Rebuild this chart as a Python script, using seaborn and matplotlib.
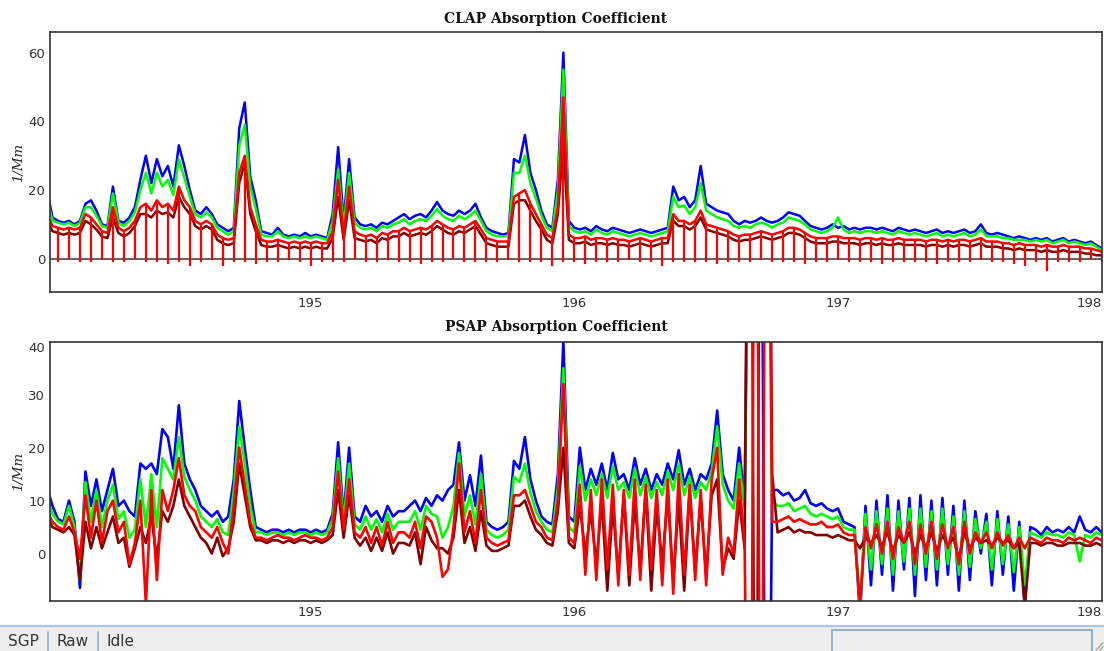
import numpy as np
import matplotlib
matplotlib.use("Agg")
import matplotlib.pyplot as plt
import seaborn as sns
from matplotlib.ticker import MultipleLocator
from matplotlib.patches import Rectangle
from matplotlib.lines import Line2D

# ---------------- data (day of year, half-hour grid 194.0 .. 198.0) ----------------
time_days = np.round(194 + np.arange(193) / 48.0, 6)

clap_blue = [
    20, 12, 11, 10.5, 11, 10, 11, 16, 17, 14,
    10, 9.5, 21, 11, 10.5, 12, 15, 23, 30, 22,
    29, 24, 27, 21, 33, 27, 20, 14, 13, 15,
    13, 10, 9, 8, 9, 38, 45.5, 24, 17, 8,
    7.5, 7, 9, 7, 6.5, 7, 6.5, 7.5, 6.5, 7,
    6.5, 6, 13, 32.5, 11, 29, 12, 10, 9.5, 10,
    9, 10.5, 10, 11, 12, 13, 11.5, 12.5, 13, 12,
    14, 16.5, 14, 13, 12.5, 14, 13, 14, 16, 12,
    9, 8, 7.5, 7, 7.5, 29, 28, 36, 25, 20,
    14, 10, 9, 23, 60, 11, 9, 8.5, 9, 8,
    9.5, 8.5, 8, 9, 8.5, 8, 7.5, 8, 8.5, 8,
    7.5, 8, 8.5, 9, 21, 17, 18, 15, 17, 27,
    16, 15, 14, 13.5, 13, 11, 10, 11, 10.5, 11,
    12, 11, 10.5, 11, 12, 13.5, 13, 12.5, 11, 9.5,
    9, 8.5, 9, 10, 9, 9.5, 8.5, 9, 8.5, 9,
    9, 8.5, 9, 8.5, 8, 9, 8.5, 8, 8.5, 8,
    7.5, 8, 8.5, 7.5, 8, 7.5, 8, 8.5, 7.5, 8,
    10, 7.5, 7, 7.5, 7, 6.5, 6, 6.5, 6, 5.5,
    6, 5.5, 6, 5, 5.5, 6, 5, 5.5, 5, 4.5,
    5, 4, 3]

clap_green = [
    17.5, 11, 10.5, 10, 10.5, 9.5, 10.5, 15, 15, 12.5,
    9.5, 9, 19, 10.5, 9.5, 11, 13.5, 20, 25, 19,
    25, 21, 23, 18.5, 29, 23.5, 18, 13, 12, 13.5,
    12, 9, 8, 7, 8, 33, 39, 21, 14.5, 7,
    6.5, 6.5, 8, 6.5, 6, 6.5, 6, 6.5, 6, 6.5,
    6, 5.5, 11, 26, 9.5, 25, 10.5, 9, 8.5, 9,
    8, 9.5, 9, 10, 10.5, 11.5, 10, 11, 11.5, 11,
    12.5, 14.5, 12.5, 11.5, 11, 12.5, 11.5, 12.5, 14, 11,
    8, 7, 6.5, 6.5, 6.5, 25, 25, 30, 22, 17.5,
    12.5, 9, 8, 20, 55, 9.5, 8, 7.5, 8, 7,
    8.5, 7.5, 7, 8, 7.5, 7, 6.5, 7, 7.5, 7,
    6.5, 7, 7.5, 8, 18, 15, 15.5, 13, 15, 22,
    14, 13, 12, 11.5, 11, 9.5, 9, 9.5, 9, 10,
    10.5, 10, 9, 10, 10.5, 12, 11.5, 11, 10, 8.5,
    8, 7.5, 8, 9, 12, 8.5, 7.5, 8, 7.5, 8,
    8, 7.5, 8, 7.5, 7, 8, 7.5, 7, 7.5, 7,
    6.5, 7, 7.5, 6.5, 7, 6.5, 7, 7.5, 6.5, 7,
    8.5, 6.5, 6.5, 6.5, 6, 6, 5.5, 5.5, 5.5, 5,
    5.5, 5, 5.5, 4.5, 5, 5.5, 4.5, 5, 4.5, 4,
    4.5, 3.5, 2.5]

clap_red = [
    13, 9.5, 9, 8.5, 9, 8.5, 9, 13, 12, 10,
    8, 7.5, 15, 9, 8, 9, 11, 15, 16, 14,
    17, 15, 16, 14, 21, 17, 15, 11, 10, 11,
    10, 7, 6, 5.5, 6, 25, 30, 15, 10, 5.5,
    5, 5, 5.5, 5, 4.5, 5, 4.5, 5, 4.5, 5,
    4.5, 4.5, 8, 23, 7, 21, 8, 7, 6.5, 7,
    6, 7.5, 7, 8, 8, 9, 8, 8.5, 9, 8.5,
    9.5, 11, 10, 9, 8.5, 9.5, 9, 10, 11, 8.5,
    6, 5.5, 5, 5, 5, 18, 19, 20, 16, 13,
    10, 7, 6, 15, 47, 7, 6, 6, 6.5, 5.5,
    6, 6, 5.5, 6, 5.5, 5.5, 5, 5.5, 6, 5.5,
    5, 5.5, 6, 6, 13, 11, 11, 10, 11, 14,
    10, 9.5, 9, 8.5, 8, 7, 6.5, 7, 7, 7.5,
    8, 7.5, 7, 7.5, 8, 9, 9, 8.5, 7.5, 6.5,
    6, 6, 6, 6.5, 6.5, 6, 6, 6, 5.5, 6,
    6, 5.5, 6, 5.5, 5.5, 6, 5.5, 5.5, 5.5, 5.5,
    5, 5.5, 5.5, 5, 5.5, 5, 5.5, 5.5, 5, 5.5,
    6, 5, 5, 5, 4.5, 4.5, 4, 4.5, 4, 4,
    4, 3.5, 4, 3.5, 3.5, 4, 3.5, 3.5, 3.5, 3,
    3, 2.5, 2]

clap_dark_red = [
    11, 8, 7.5, 7, 7.5, 7, 7.5, 11, 10, 8.5,
    6.5, 6, 12, 7.5, 6.5, 7.5, 9.5, 13, 13, 12,
    14, 13, 13.5, 12, 18, 15, 13, 9.5, 8.5, 9.5,
    8.5, 5.5, 4.5, 4, 4.5, 22, 28, 13, 8, 4,
    3.5, 3.5, 4, 3.5, 3, 3.5, 3, 3.5, 3, 3.5,
    3, 3, 6, 18, 5.5, 17, 6, 5.5, 5, 5.5,
    4.5, 6, 5.5, 6.5, 6.5, 7.5, 6.5, 7, 7.5, 7,
    8, 9.5, 8.5, 7.5, 7, 8, 7.5, 8.5, 9.5, 7,
    4.5, 4, 3.5, 3.5, 3.5, 16, 17, 17, 14, 11,
    8.5, 5.5, 4.5, 13, 34, 5.5, 4.5, 4.5, 5, 4,
    4.5, 4.5, 4, 4.5, 4, 4, 3.5, 4, 4.5, 4,
    3.5, 4, 4.5, 4.5, 11, 9.5, 9.5, 8.5, 9.5, 12,
    8.5, 8, 7.5, 7, 6.5, 5.5, 5, 5.5, 5.5, 6,
    6.5, 6, 5.5, 6, 6.5, 7.5, 7.5, 7, 6, 5,
    4.5, 4.5, 4.5, 5, 5, 4.5, 4.5, 4.5, 4, 4.5,
    4.5, 4, 4.5, 4, 4, 4.5, 4, 4, 4, 4,
    3.5, 4, 4, 3.5, 4, 3.5, 4, 4, 3.5, 4,
    4.5, 3.5, 3.5, 3.5, 3, 3, 2.5, 3, 2.5, 2.5,
    2.5, 2, 2.5, 2, 2, 2.5, 2, 2, 2, 1.5,
    1.5, 1, 1]

# hourly zero checks of the CLAP (minimum reached at each hour, hours 194+1/24 ...)
clap_zero_low = [
    -1, 0, -1, -1, -0.5, -1, -1, 0, -1, -1, -1.5, -1, -2, -1, -0.5, -2, -1, -1, -1.5, -1,
    -1, -0.5, -1, -2, -1, -1, -1, 0, -1, -1, -0.5, -1, -1, -1.5, -1, -1, 0, -1, -1, -1,
    -1, -0.5, -1, -1, -1, -2, -1, -1, -1.5, -1, -1, -1, -0.5, -1, -1, -2, -1, -1, -1, -1,
    -1.5, -1, -1, -1, -0.5, -1, -1, -1, -1.5, -1, -1, -0.5, -1, -1, -1, -1.5, -1, -1, -1, -1,
    -1.5, -1, -1, -1, -0.5, -1, -1, -1.5, -2, -1, -3.5, -1, -1, -1, -0.5, -1]

psap_blue = [
    12.5, 9, 6.5, 6, 10, 6, -6.5, 15.5, 9, 14,
    8, 12, 16, 9, 10, 8, 7, 17, 16, 17,
    15, 23.5, 22, 16, 28, 17, 14, 12, 9, 8,
    7, 8, 6, 7, 14, 28.8, 20, 12, 5, 4.5,
    4, 4.5, 4.5, 4, 4.5, 4, 4.5, 4.5, 4, 4.5,
    4, 4.5, 7.5, 21, 7, 20, 7, 6, 9, 7,
    8, 6, 9, 7, 8, 8, 9, 10, 8, 10.5,
    9, 11, 10, 12, 13, 21, 10, 14.8, 9, 18.5,
    6, 5, 4.5, 5, 6, 17.5, 16, 22, 14, 10,
    7, 6, 5.5, 15, 40, 7, 6, 20, 12, 16,
    13, 17, 12, 19, 14, 15, 12, 18, 13, 16,
    12, 15, 13, 17, 14, 19.5, 13, 16, 12, 15,
    14, 17, 27, 15, 12, 10, 20, 10, 100, 100,
    100, -100, 12, 12, 11, 11.5, 10, 10.5, 12, 9.5,
    9, 9.5, 8.5, 8, 8.5, 6, 5.5, 5, -12, 9,
    -6, 10, -4, 11, -7, 10, -3, 10.5, -8, 11,
    -5, 10, -6, 10.5, -4, 9, -7, 10, -5, 8,
    0, 7.5, -6, 8, -4, 7, -7, 6, -10, 5,
    4.5, 3.5, 5, 4, 4.5, 4, 5, 4, 7, 4.5,
    4, 5, 4]

psap_green = [
    10.5, 7.5, 6, 5.5, 9, 5, -5, 13.5, 6, 12,
    5, 10, 13, 6.5, 8, 3, 4.5, 14, 5, 15,
    5, 18, 16, 14, 22, 14.5, 12, 10, 7, 6,
    5, 6.5, 4, 3.5, 12, 24, 17, 9, 4, 4,
    3.5, 4, 4, 3.5, 4, 3.5, 4, 4, 3.5, 4,
    3.5, 4, 6.5, 18, 6, 17, 5.5, 4.5, 7, 4.5,
    6.5, 4, 7.5, 4.5, 6, 6, 6, 8, 4.5, 9,
    7.5, 7, 3, 5, 9, 19, 7, 11, 5.5, 15,
    4.5, 3.5, 3, 3.5, 4.5, 14.5, 13.5, 17, 11.5, 8,
    6, 4.5, 4, 12.5, 35, 5, 4, 16.5, 10, 14,
    11, 15, 10.5, 16.5, 12, 13.5, 10.5, 16, 11, 14.5,
    10.5, 13.5, 11, 15.5, 12, 17, 11, 14.5, 10.5, 13.5,
    12, 15.5, 24, 13, 10, 8.5, 17, 8.5, 100, 100,
    100, 100, 10, 9, 9, 9.5, 8, 8.5, 9, 7.5,
    7, 7.5, 7, 6.5, 7, 5, 4.5, 4.5, -10, 7.5,
    -3, 8, -2, 8.5, -4, 8, -1.5, 8.5, -4, 8.5,
    -2.5, 8, -3, 8.5, -2, 7, -4, 8, -2.5, 6.5,
    1, 6, -3, 6.5, -2, 5.5, -3.5, 5, -6, 4,
    3.5, 3, 4, 3.5, 3.5, 3, 4, 3.5, -1.5, 3.5,
    3, 4, 3.5]

psap_red = [
    8, 6, 5, 4.5, 7, 4, -1, 11, 3, 10,
    2, 8, 10, 4, 6, -2, 2, 10, -9.5, 12,
    -5, 12, 8, 12, 18, 11, 9, 8, 5, 4,
    3, 5, 2, 0, 9, 20, 13, 6, 3, 3,
    2.5, 3, 3.5, 3, 3, 2.5, 3, 3.5, 3, 3,
    2.5, 3, 5, 15.5, 4.5, 14, 4, 3, 5, 2,
    5, 1.5, 6, 2, 4, 4, 3, 6, 1, 7,
    6, 3, -4.4, -3, 5, 17, 4, 8, 2, 12,
    3, 2, 1.5, 2, 2.5, 11, 11, 12, 9, 6,
    5, 3, 2.5, 10, 32, 3, 2, 13, -4, 12,
    -5, 14, -3, 13, -6, 12, -4, 14, -5, 13,
    -3, 12, -6, 14, -7.6, 15, -4, 13, -5, 12,
    -6, 14, 20, -4, 3, 0, 14, 2, -100, 150,
    -100, 150, 6, 6, 6.5, 7, 6, 6.5, 6, 5.5,
    5.5, 6, 5, 5, 5.5, 4, 3.5, 3.5, -9.5, 5,
    1, 5.5, 0, 6, -1, 5, 2, 6, -2, 5.5,
    0, 6, -1, 5.5, 1, 5, -2, 6, 0, 4,
    2, 4, 1, 4, 1.5, 3.5, 1, 3, 1, 3,
    2.5, 2, 3, 2.5, 2.5, 2, 3, 2.5, 3, 2.5,
    2, 3, 2.5]

psap_dark_red = [
    7, 5, 4.5, 4, 5, 3.5, -5, 6, 1, 5,
    1, 4, 7, 2, 3, -2.5, 1, 5, 2, 7,
    -1, 8, 6, 9, 14, 9, 7, 5, 3, 2,
    0, 3, -0.5, 1, 6, 17, 11, 5, 2.5, 2.5,
    2, 2.5, 2.5, 2, 2.5, 2, 2.5, 2.5, 2, 2.5,
    2, 2.5, 3.5, 12, 3, 11, 3, 1.5, 3, 0.5,
    3, 0.5, 4, 0, 2, 2, 1.5, 4, -2, 5,
    2.5, 1, 1, 0, 3, 12, 2, 5, 0.5, 8,
    1.5, 0.5, 0.5, 1, 1.5, 9, 9, 10, 7, 4.5,
    3.5, 2, 1.5, 8, 20, 2, 1, 9, 0, 8,
    -2, 10, -7, 9, -4, 11, -6, 10, -3, 12,
    -7, 9, -2, 11, -5, 10, -7, 12, -3, 10,
    -4, 11, 14, -3, 1, -1, 10, 1, 150, -100,
    150, 150, 15, 4, 4.5, 5, 4, 4.5, 4, 4,
    3.5, 3.5, 3.5, 3, 3.5, 3, 2.5, 2.5, 1, 3,
    2, 3.5, 1.5, 4, 0.5, 3.5, 2, 4, 0, 3.5,
    1, 4, 0.5, 3.5, 1.5, 3, -1, 4, 1, 3,
    2, 2.5, 1.5, 3, 2, 2.5, 1, 2, -10, 2,
    2, 1.5, 2, 2, 1.5, 1.5, 2, 2, 2, 1.5,
    1.5, 2, 1.5]

panel_titles = ["CLAP Absorption Coefficient", "PSAP Absorption Coefficient"]
y_unit = "1/Mm"
x_tick_values = [195, 196, 197, 198]
status_items = ["SGP", "Raw", "Idle"]

# ---------------- styling ----------------
sns.set_style("white")
plt.rcParams["font.family"] = ["DejaVu Sans"]

W, H = 1104, 651
fig = plt.figure(figsize=(W / 100, H / 100), dpi=100)
fig.patch.set_facecolor("white")

ax_top = fig.add_axes([50 / W, 1 - 291.7 / H, 1051.7 / W, 259.4 / H])
ax_bot = fig.add_axes([50 / W, 1 - 600.7 / H, 1051.7 / W, 259.0 / H])

colors = {"blue": "#0000ff", "green": "#00ff00", "dark_red": "#800000", "red": "#ff0000"}
LW_TOP = 1.8
LW_BOT = 1.9

# top panel
ax_top.axhline(0, color="#555555", lw=1.3, zorder=1)
for key, vals in [("blue", clap_blue), ("green", clap_green),
                  ("dark_red", clap_dark_red), ("red", clap_red)]:
    sns.lineplot(x=time_days, y=vals, ax=ax_top, color=colors[key], lw=LW_TOP,
                 estimator=None, sort=False, legend=False, zorder=2)
ax_top.vlines(time_days[2::2], clap_zero_low, np.asarray(clap_red)[2::2],
              colors=colors["red"], lw=1.6, zorder=3)

# bottom panel
for key, vals in [("blue", psap_blue), ("green", psap_green),
                  ("dark_red", psap_dark_red), ("red", psap_red)]:
    sns.lineplot(x=time_days, y=vals, ax=ax_bot, color=colors[key], lw=LW_BOT,
                 estimator=None, sort=False, legend=False, zorder=2)

for ax, ylim, ymaj, ymin in [(ax_top, (-9.6, 65.9), [0, 20, 40, 60], 5),
                             (ax_bot, (-8.9, 40.0), [0, 10, 20, 30, 40], 2.5)]:
    ax.set_xlim(194.0114, 198.0)
    ax.set_ylim(*ylim)
    ax.set_xticks(x_tick_values)
    xl = ax.set_xticklabels([str(v) for v in x_tick_values])
    xl[-1].set_horizontalalignment("right")
    ax.xaxis.set_minor_locator(MultipleLocator(0.25))
    ax.set_yticks(ymaj)
    ax.set_yticklabels([str(v) for v in ymaj])
    ax.yaxis.set_minor_locator(MultipleLocator(ymin))
    ax.tick_params(axis="both", which="major", direction="in", length=5.5, width=1,
                   color="#444444", labelsize=9.5, labelcolor="#333333", pad=3.5,
                   top=False, right=False)
    ax.tick_params(axis="both", which="minor", direction="in", length=3.5, width=1,
                   color="#444444", top=False, right=False)
    for s in ax.spines.values():
        s.set_color("#333333")
        s.set_linewidth(1.2)
        s.set_zorder(5)
    ax.set_xlabel("")
    ax.set_ylabel("")
    ax.set_facecolor("white")

# shift the top "40" label of the lower panel inside, as in the reference
ax_bot.get_yticklabels()[-1].set_verticalalignment("top")

# titles and unit labels
fig.text(556 / W, 1 - 23 / H, panel_titles[0], ha="center", va="baseline",
         family="DejaVu Serif", weight="bold", fontsize=10, color="#111111")
fig.text(556 / W, 1 - 331.5 / H, panel_titles[1], ha="center", va="baseline",
         family="DejaVu Serif", weight="bold", fontsize=10, color="#111111")
fig.text(19 / W, 1 - 162 / H, y_unit, rotation=90, ha="center", va="center",
         family="DejaVu Serif", style="italic", fontsize=9.5, color="#222222")
fig.text(19 / W, 1 - 471.5 / H, y_unit, rotation=90, ha="center", va="center",
         family="DejaVu Serif", style="italic", fontsize=9.5, color="#222222")

# status bar
fig.add_artist(Rectangle((0, 0), 1, 24 / H, transform=fig.transFigure,
                         facecolor="#eeeeee", edgecolor="none", zorder=0))
fig.add_artist(Line2D([0, 1], [1 - 625.5 / H] * 2, transform=fig.transFigure,
                      color="#adc6e4", lw=1.6))
xs = [8, 57, 107]
for x, s in zip(xs, status_items):
    fig.text(x / W, 1 - 646.5 / H, s, ha="left", va="baseline", fontsize=11,
             color="#333333", family="DejaVu Sans")
for x in [47.7, 98.3]:
    fig.add_artist(Line2D([x / W] * 2, [0, 1 - 632 / H], transform=fig.transFigure,
                          color="#8fb0d8", lw=1.2))
fig.add_artist(Rectangle((832 / W, -0.01), 260 / W, 0.01 + 21 / H,
                         transform=fig.transFigure, facecolor="#eeeeee",
                         edgecolor="#8aa4c0", lw=1.2))
for d in [4, 8]:
    fig.add_artist(Line2D([(1104 - d) / W, 1103 / W], [0.5 / H, (d + 0.5) / H],
                          transform=fig.transFigure, color="#999999", lw=0.8))

fig.savefig("out.png", dpi=100, facecolor="white")
